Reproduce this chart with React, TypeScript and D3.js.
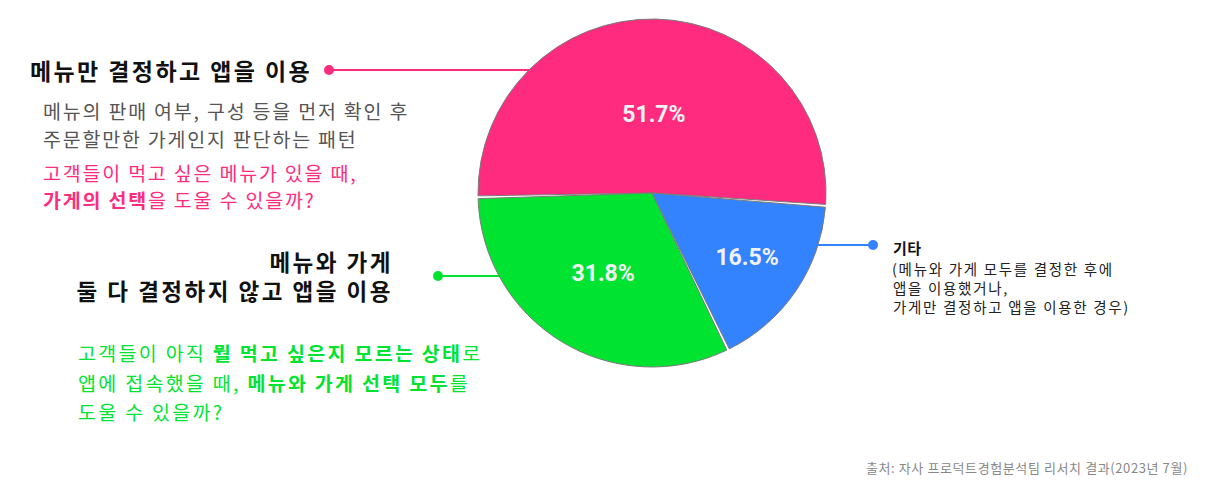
import React from "react";
import * as d3 from "d3";

const categories = ["메뉴만 결정하고 앱을 이용", "기타", "메뉴와 가게 둘 다 결정하지 않고 앱을 이용"];
const values = [51.7, 16.5, 31.8];
const valueLabels = ["51.7%", "16.5%", "31.8%"];
const colors = ["#FF2B7E", "#3383FF", "#00E431"];
const labelRadiusFactor = [0.45, 0.66, 0.54];

const W = 1209;
const H = 500;
const FONT = "'Noto Sans CJK KR', 'Noto Sans', sans-serif";

export default function App() {
  const cx = 652;
  const cy = 193;
  const R = 174;
  const start = (-91.4 * Math.PI) / 180;
  const pie = d3
    .pie<number>()
    .sort(null)
    .startAngle(start)
    .endAngle(start + 2 * Math.PI)
    .padAngle(0.016);
  const arcs = pie(values);
  const arc = d3.arc<d3.PieArcDatum<number>>().innerRadius(0).outerRadius(R).padRadius(R);

  const pink = colors[0];
  const blue = colors[1];
  const green = colors[2];

  return (
    <svg width={W} height={H} style={{ position: "absolute", left: 0, top: 0, background: "#fff" }} fontFamily={FONT}>
      <rect x={0} y={0} width={W} height={H} fill="#fff" />
      {/* leader lines */}
      <line x1={329} y1={70} x2={560} y2={70} stroke={pink} strokeWidth={2} />
      <circle cx={329} cy={70} r={5} fill={pink} />
      <line x1={438} y1={276} x2={530} y2={276} stroke={green} strokeWidth={2} />
      <circle cx={438} cy={276} r={5} fill={green} />
      <line x1={790} y1={245} x2={873} y2={245} stroke={blue} strokeWidth={2} />
      <circle cx={873} cy={245} r={5} fill={blue} />

      <g transform={`translate(${cx},${cy})`}>
        {arcs.map((a, i) => (
          <path key={categories[i]} d={arc(a) || ""} fill={colors[i]} stroke="#7a7a7a" strokeWidth={1} />
        ))}
        {arcs.map((a, i) => {
          const r = R * labelRadiusFactor[i];
          const [x, y] = d3
            .arc<d3.PieArcDatum<number>>()
            .innerRadius(r)
            .outerRadius(r)
            .centroid(a);
          return (
            <text
              key={"l" + i}
              x={x}
              y={y}
              textAnchor="middle"
              dominantBaseline="central"
              fill="#f2f2f2"
              fontSize={23}
              fontWeight={700}
              fontFamily="Roboto, 'Liberation Sans', sans-serif"
            >
              {valueLabels[i]}
            </text>
          );
        })}
      </g>

      {/* pink block */}
      <text x={30} y={70} dominantBaseline="central" fontSize={23} fontWeight={700} fill="#111" letterSpacing={2.4}>
        메뉴만 결정하고 앱을 이용
      </text>
      <g fontSize={19.5} fill="#555" dominantBaseline="central" letterSpacing={1.8}>
        <text x={43} y={110}>메뉴의 판매 여부, 구성 등을 먼저 확인 후</text>
        <text x={43} y={138}>주문할만한 가게인지 판단하는 패턴</text>
      </g>
      <g fontSize={19.5} fill={pink} dominantBaseline="central" letterSpacing={1.8}>
        <text x={43} y={172}>고객들이 먹고 싶은 메뉴가 있을 때,</text>
        <text x={43} y={199}>
          <tspan fontWeight={700}>가게의 선택</tspan>을 도울 수 있을까?
        </text>
      </g>

      {/* green block */}
      <g fontSize={22.5} fontWeight={700} fill="#111" textAnchor="end" dominantBaseline="central" letterSpacing={2.5}>
        <text x={393} y={261}>메뉴와 가게</text>
        <text x={393} y={290}>둘 다 결정하지 않고 앱을 이용</text>
      </g>
      <g fontSize={19.5} fill={green} dominantBaseline="central" letterSpacing={2.3}>
        <text x={78} y={352}>
          고객들이 아직 <tspan fontWeight={700}>뭘 먹고 싶은지 모르는 상태</tspan>로
        </text>
        <text x={78} y={382}>
          앱에 접속했을 때, <tspan fontWeight={700}>메뉴와 가게 선택 모두</tspan>를
        </text>
        <text x={78} y={411}>도울 수 있을까?</text>
      </g>

      {/* blue block */}
      <text x={893} y={247} dominantBaseline="central" fontSize={15} fontWeight={700} fill="#111" letterSpacing={0.5}>
        기타
      </text>
      <g fontSize={14.5} fill="#222" dominantBaseline="central" letterSpacing={1.7}>
        <text x={892} y={268}>(메뉴와 가게 모두를 결정한 후에</text>
        <text x={893} y={287}>앱을 이용했거나,</text>
        <text x={893} y={306}>가게만 결정하고 앱을 이용한 경우)</text>
      </g>

      {/* source */}
      <text x={1188} y={467} textAnchor="end" dominantBaseline="central" fontSize={13} fill="#888" letterSpacing={0.6}>
        출처: 자사 프로덕트경험분석팀 리서치 결과(2023년 7월)
      </text>
    </svg>
  );
}
